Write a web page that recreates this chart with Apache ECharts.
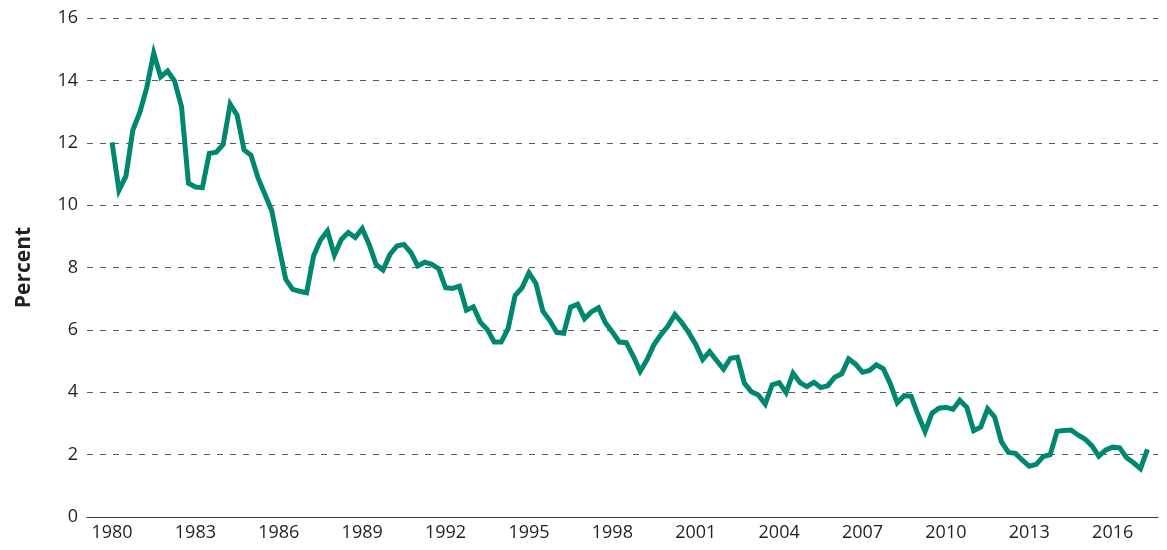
<!DOCTYPE html>
<html>
<head>
<meta charset="utf-8">
<title>Percent</title>
<script src="https://cdn.jsdelivr.net/npm/echarts@6.0.0/dist/echarts.min.js"></script>
<style>
  html, body { margin: 0; padding: 0; background: #fff; }
  #chart { width: 1167px; height: 550px; }
</style>
</head>
<body>
<div id="chart"></div>
<script>
// 季度数据，1980年第一季度起
const startYear = 1980;
const yearLabels = [1980, 1983, 1986, 1989, 1992, 1995, 1998, 2001, 2004, 2007, 2010, 2013, 2016];
const yTicks = [0, 2, 4, 6, 8, 10, 12, 14, 16];
const values = [
    12.01, 10.48, 10.93, 12.41, 12.97, 13.77, 14.87, 14.11, 14.30, 13.98,
    13.16, 10.70, 10.58, 10.56, 11.66, 11.70, 11.95, 13.24, 12.88, 11.77,
    11.60, 10.88, 10.35, 9.81, 8.69, 7.62, 7.30, 7.24, 7.19, 8.37,
    8.88, 9.17, 8.40, 8.90, 9.12, 8.96, 9.25, 8.74, 8.10, 7.92,
    8.42, 8.69, 8.74, 8.48, 8.05, 8.17, 8.10, 7.96, 7.35, 7.33,
    7.40, 6.63, 6.74, 6.25, 6.01, 5.61, 5.61, 6.04, 7.10, 7.35,
    7.83, 7.49, 6.60, 6.30, 5.92, 5.89, 6.73, 6.82, 6.36, 6.58,
    6.71, 6.23, 5.93, 5.61, 5.59, 5.16, 4.67, 5.05, 5.53, 5.85,
    6.12, 6.49, 6.23, 5.91, 5.53, 5.05, 5.30, 5.02, 4.74, 5.09,
    5.12, 4.29, 4.02, 3.91, 3.62, 4.24, 4.31, 3.99, 4.61, 4.31,
    4.18, 4.32, 4.15, 4.21, 4.48, 4.59, 5.07, 4.90, 4.64, 4.70,
    4.88, 4.75, 4.27, 3.66, 3.89, 3.87, 3.27, 2.74, 3.33, 3.49,
    3.52, 3.45, 3.74, 3.52, 2.77, 2.88, 3.47, 3.21, 2.41, 2.07,
    2.04, 1.82, 1.63, 1.69, 1.94, 2.00, 2.75, 2.77, 2.79, 2.63,
    2.50, 2.29, 1.95, 2.15, 2.24, 2.22, 1.90, 1.74, 1.55, 2.17
];

document.addEventListener("DOMContentLoaded", function() {
    const chart = echarts.init(document.getElementById('chart'));

    // 每个季度占四分之一年
    const seriesData = values.map((v, i) => [startYear + i / 4, v]);
    const textColor = '#231f20';
    const font = "'Open Sans', 'Noto Sans', sans-serif";

    const option = {
        animation: false,
        grid: { left: 87, right: 9, top: 18, bottom: 33 },
        xAxis: {
            type: 'value',
            min: 1979.1,
            max: 2017.63,
            axisLine: { show: true, lineStyle: { color: '#3a3a3a', width: 1.2 } },
            axisTick: { show: false },
            splitLine: { show: false },
            axisLabel: {
                customValues: yearLabels,
                formatter: v => String(v),
                color: textColor,
                fontFamily: font,
                fontSize: 18,
                margin: 7
            }
        },
        yAxis: {
            type: 'value',
            min: 0,
            max: 16,
            interval: 2,
            name: 'Percent',
            nameLocation: 'middle',
            nameGap: 52,
            nameRotate: 90,
            nameTextStyle: { color: textColor, fontFamily: font, fontSize: 21, fontWeight: 'bold' },
            axisLine: { show: false },
            axisTick: { show: false },
            axisLabel: {
                color: textColor,
                fontFamily: font,
                fontSize: 18,
                margin: 9,
                formatter: v => yTicks.includes(v) ? String(v) : ''
            },
            splitLine: { lineStyle: { color: '#5a5a5a', width: 1, type: [6, 7] } }
        },
        series: [{
            type: 'line',
            data: seriesData,
            showSymbol: false,
            lineStyle: { color: '#00876f', width: 5, join: 'miter' },
            z: 3
        }]
    };
    chart.setOption(option);
});
</script>
</body>
</html>
